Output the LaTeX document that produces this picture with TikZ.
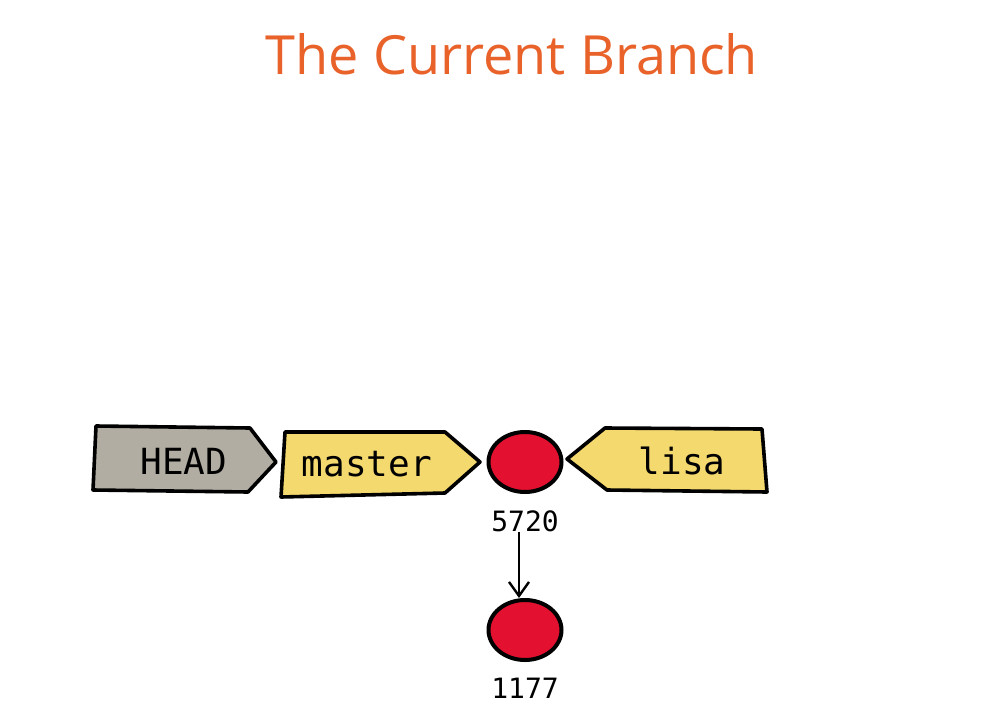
\documentclass[tikz,border=0pt]{standalone}
\usepackage{fontspec}
\newfontfamily\titlefont{Open Sans}
\newfontfamily\monofont{DejaVu Sans Mono}
\usetikzlibrary{shapes.geometric,arrows.meta}
\definecolor{titleorange}{HTML}{E8622A}
\definecolor{headgray}{HTML}{B1ADA3}
\definecolor{tagyellow}{HTML}{F4D96E}
\definecolor{commitred}{HTML}{E3112F}
\tikzset{
  tagline/.style={draw=black,line width=3.6pt,line join=round},
  tagtext/.style={font=\monofont\fontsize{36}{40}\selectfont,inner sep=0pt},
  commit/.style={ellipse,draw=black,line width=4pt,fill=commitred,minimum width=73pt,minimum height=60pt,inner sep=0pt},
  idtext/.style={font=\monofont\fontsize{28}{32}\selectfont,inner sep=0pt},
  link/.style={draw=black,line width=2.4pt,-{Straight Barb[length=14pt,width=20pt,line width=2.4pt]}}
}
\begin{document}
\begin{tikzpicture}[x=1pt,y=-1pt]
\useasboundingbox (0,0) rectangle (1001,715);
\fill[white] (0,0) rectangle (1001,715);
% title
\node[font=\titlefont\fontsize{54}{58}\selectfont,text=titleorange,inner sep=0pt] (title) at (512,54) {The Current Branch};
% HEAD tag
\path[tagline,fill=headgray] (96,426) -- (250,428) -- (276,462) -- (248,492) -- (93,490) -- cycle;
\node[tagtext] (head) at (184,461) {HEAD};
% master tag
\path[tagline,fill=tagyellow] (285,432) -- (445,432) -- (480,462) -- (445,493) -- (281,497) -- cycle;
\node[tagtext] (master) at (367,464) {master};
% lisa tag
\path[tagline,fill=tagyellow] (567,459) -- (605,428) -- (762,429) -- (767,492) -- (607,490) -- cycle;
\node[tagtext] (lisa) at (682,461) {lisa};
% commits
\node[commit] (c5720) at (525,462) {};
\node[idtext] (l5720) at (525,521) {5720};
\node[commit] (c1177) at (525,630) {};
\node[idtext] (l1177) at (525,688) {1177};
\draw[link] ([xshift=-6pt]l5720.south) -- ([xshift=-6pt]c1177.north);
\end{tikzpicture}
\end{document}
